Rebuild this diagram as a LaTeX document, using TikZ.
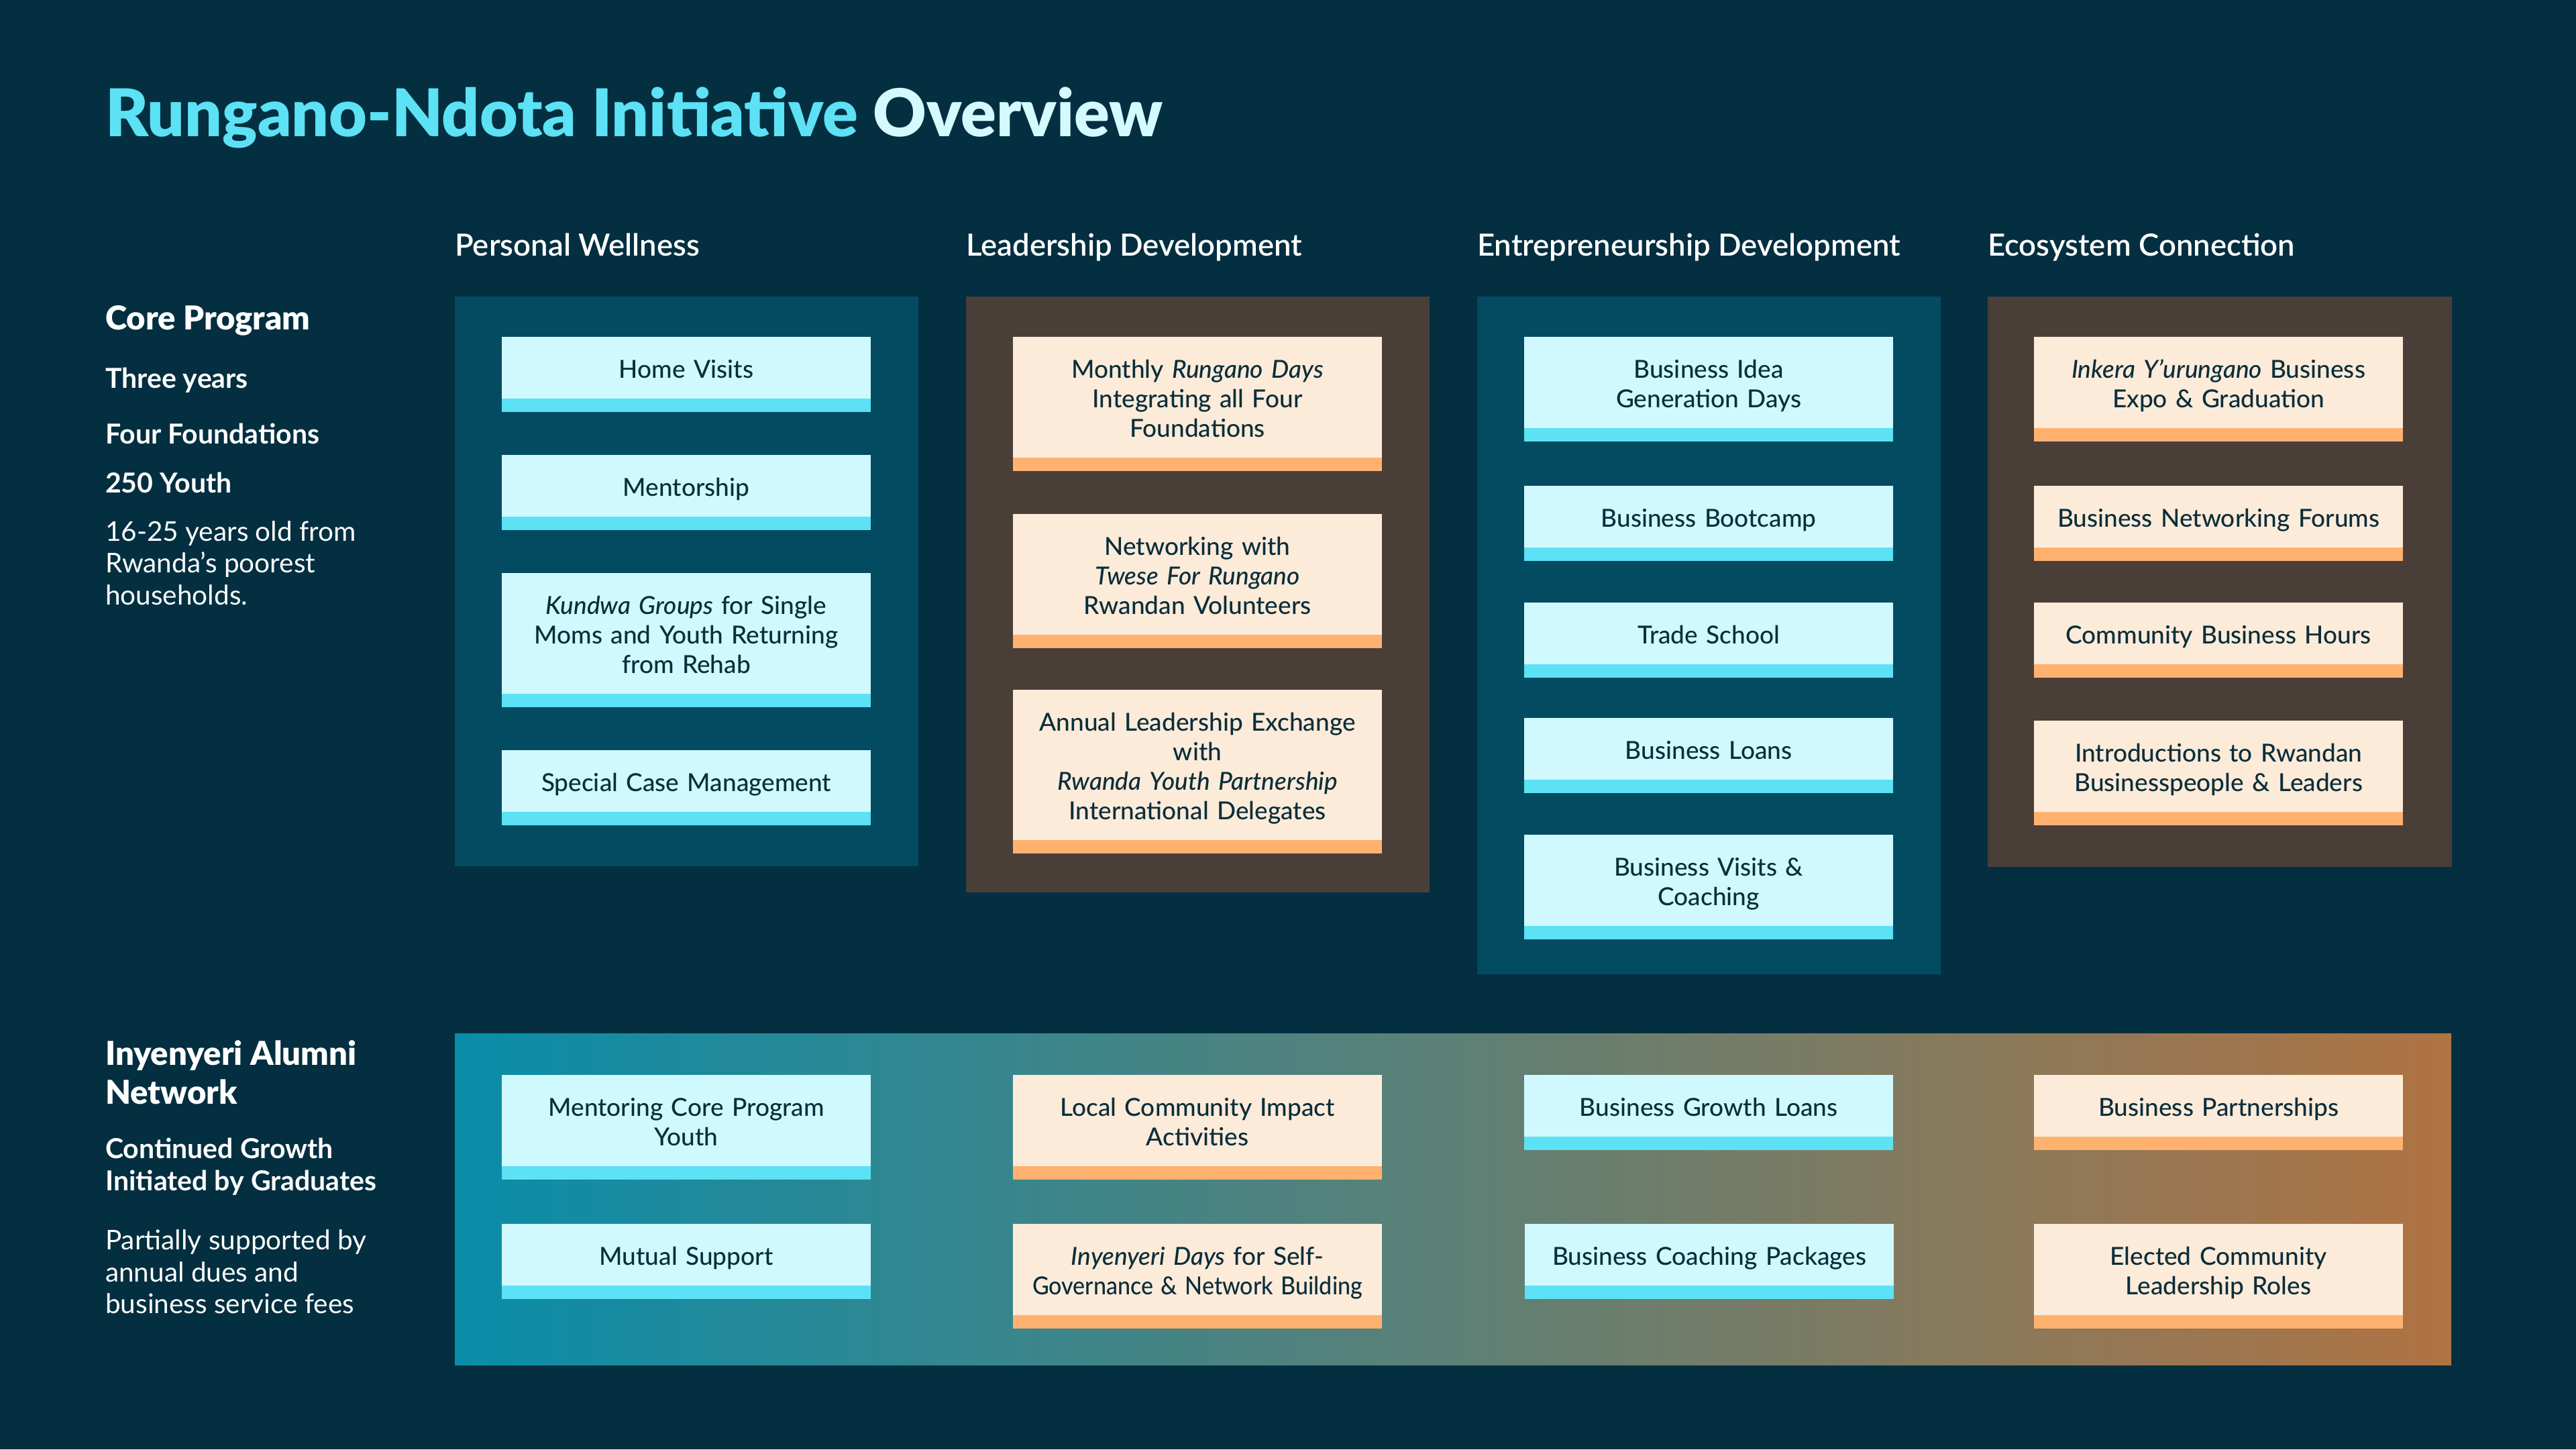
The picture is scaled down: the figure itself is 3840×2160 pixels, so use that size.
\documentclass[tikz,border=0pt]{standalone}
\usepackage{fontspec}
\setmainfont{Lato}
\newfontfamily\blackfont{Lato Black}
\newfontfamily\semifont{Lato Semibold}
\newfontfamily\medfont{Lato Medium}[ItalicFont={Lato Medium Italic}]
\definecolor{bgnavy}{HTML}{032F40}
\definecolor{panelteal}{HTML}{034B61}
\definecolor{panelbrown}{HTML}{4A3E39}
\definecolor{cardcyan}{HTML}{D0F9FF}
\definecolor{stripecyan}{HTML}{5CE1F5}
\definecolor{cardpeach}{HTML}{FDEBDA}
\definecolor{stripepeach}{HTML}{FFB26F}
\definecolor{textdark}{HTML}{0B2E3A}
\definecolor{titlecyan}{HTML}{5CE1F5}
\definecolor{titlepale}{HTML}{D4FAFF}
\definecolor{gradleft}{HTML}{0A8DA9}
\definecolor{gradright}{HTML}{B07343}
\newcommand{\cardstrut}{\rule[-8pt]{0pt}{46pt}}
\begin{document}
\begin{tikzpicture}[x=1pt,y=-1pt,
  card/.style={anchor=north west, minimum width=550pt, text width=550pt, align=center,
    inner sep=0pt, outer sep=0pt, text=textdark, font=\fontsize{37}{44}\selectfont\medfont,
    execute at begin node={\lineskiplimit=-1000pt\cardstrut}, execute at end node=\cardstrut},
  cyancard/.style={card, fill=cardcyan},
  peachcard/.style={card, fill=cardpeach},
  cyanstripe/.style={fill=stripecyan},
  peachstripe/.style={fill=stripepeach},
  colhead/.style={anchor=base west, inner sep=0pt, text=white, font=\fontsize{45.5}{55}\selectfont\semifont},
  sidehead/.style={anchor=base west, inner sep=0pt, text=white, font=\fontsize{49}{58}\selectfont\blackfont},
  sidebold/.style={anchor=base west, inner sep=0pt, text=white, font=\fontsize{41}{48}\selectfont\bfseries},
  sidetext/.style={anchor=base west, inner sep=0pt, text=white, font=\fontsize{40.5}{48}\selectfont},
]
\useasboundingbox (0,0) rectangle (3840,2160);
\fill[bgnavy] (0,0) rectangle (3840,2160);

% title
\node[anchor=base west, inner sep=0pt, font=\fontsize{98}{118}\selectfont\blackfont] (title) at (157,203)
  {\textcolor{titlecyan}{Rungano-Ndota Initiative} \textcolor{titlepale}{Overview}};

% column headers
\node[colhead] (h1) at (678,381) {Personal Wellness};
\node[colhead] (h2) at (1440,381) {Leadership Development};
\node[colhead] (h3) at (2202,381) {Entrepreneurship Development};
\node[colhead] (h4) at (2963,381) {Ecosystem Connection};

% left side texts
\node[sidehead] (core) at (157,491) {Core Program};
\node[sidebold] (three) at (157,578) {Three years};
\node[sidebold] (four) at (157,661) {Four Foundations};
\node[sidebold] (youth) at (157,734) {250 Youth};
\node[sidetext] (desc1) at (157,806) {16-25 years old from};
\node[sidetext] (desc2) at (157,853) {Rwanda’s poorest};
\node[sidetext] (desc3) at (157,901) {households.};

\node[sidehead] (alum1) at (157,1587) {Inyenyeri Alumni};
\node[sidehead] (alum2) at (157,1645) {Network};
\node[sidebold] (cont1) at (157,1726) {Continued Growth};
\node[sidebold] (cont2) at (157,1774) {Initiated by Graduates};
\node[sidetext] (part1) at (157,1862) {Partially supported by};
\node[sidetext] (part2) at (157,1910) {annual dues and};
\node[sidetext] (part3) at (157,1957) {business service fees};

% panels
\fill[panelteal] (678,442) rectangle (1369,1291);
\fill[panelbrown] (1440,442) rectangle (2131,1330);
\fill[panelteal] (2202,442) rectangle (2893,1452);
\fill[panelbrown] (2963,442) rectangle (3655,1292);
\shade[left color=gradleft, right color=gradright] (678,1540) rectangle (3654,2034);

% Personal Wellness
\node[cyancard, minimum height=92pt] (pw1) at (748,502) {Home Visits};
\node[cyancard, minimum height=92pt] (pw2) at (748,678) {Mentorship};
\node[cyancard, minimum height=180pt] (pw3) at (748,854) {\textit{Kundwa Groups} for Single\\Moms and Youth Returning\\from Rehab};
\node[cyancard, minimum height=92pt] (pw4) at (748,1118) {Special Case Management};
\foreach \n in {pw1,pw2,pw3,pw4} \fill[cyanstripe] (\n.south west) rectangle ++(550,20);

% Leadership Development
\node[peachcard, minimum height=180pt] (ld1) at (1510,502) {Monthly \textit{Rungano Days}\\Integrating all Four\\Foundations};
\node[peachcard, minimum height=180pt] (ld2) at (1510,766) {Networking with\\\textit{Twese For Rungano}\\Rwandan Volunteers};
\node[peachcard, minimum height=224pt] (ld3) at (1510,1028) {Annual Leadership Exchange\\with\\\textit{Rwanda Youth Partnership}\\International Delegates};
\foreach \n in {ld1,ld2,ld3} \fill[peachstripe] (\n.south west) rectangle ++(550,20);

% Entrepreneurship Development
\node[cyancard, minimum height=136pt] (ed1) at (2272,502) {Business Idea\\Generation Days};
\node[cyancard, minimum height=92pt] (ed2) at (2272,724) {Business Bootcamp};
\node[cyancard, minimum height=92pt] (ed3) at (2272,898) {Trade School};
\node[cyancard, minimum height=92pt] (ed4) at (2272,1070) {Business Loans};
\node[cyancard, minimum height=136pt] (ed5) at (2272,1244) {Business Visits \&\\Coaching};
\foreach \n in {ed1,ed2,ed3,ed4,ed5} \fill[cyanstripe] (\n.south west) rectangle ++(550,20);

% Ecosystem Connection
\node[peachcard, minimum height=136pt] (ec1) at (3032,502) {\textit{Inkera Y’urungano} Business\\Expo \& Graduation};
\node[peachcard, minimum height=92pt] (ec2) at (3032,724) {Business Networking Forums};
\node[peachcard, minimum height=92pt] (ec3) at (3032,898) {Community Business Hours};
\node[peachcard, minimum height=136pt] (ec4) at (3032,1074) {Introductions to Rwandan\\Businesspeople \& Leaders};
\foreach \n in {ec1,ec2,ec3,ec4} \fill[peachstripe] (\n.south west) rectangle ++(550,20);

% Alumni network row
\node[cyancard, minimum height=136pt] (al1) at (748,1602) {Mentoring Core Program\\Youth};
\node[cyancard, minimum height=92pt] (al2) at (748,1824) {Mutual Support};
\node[peachcard, minimum height=136pt] (al3) at (1510,1602) {Local Community Impact\\Activities};
\node[peachcard, minimum height=136pt] (al4) at (1510,1824) {\textit{Inyenyeri Days} for Self-\\\scalebox{0.92}[1]{Governance \& Network Building}};
\node[cyancard, minimum height=92pt] (al5) at (2272,1602) {Business Growth Loans};
\node[cyancard, minimum height=92pt] (al6) at (2273,1824) {Business Coaching Packages};
\node[peachcard, minimum height=92pt] (al7) at (3032,1602) {Business Partnerships};
\node[peachcard, minimum height=136pt] (al8) at (3032,1824) {Elected Community\\Leadership Roles};
\foreach \n in {al1,al2,al5,al6} \fill[cyanstripe] (\n.south west) rectangle ++(550,20);
\foreach \n in {al3,al4,al7,al8} \fill[peachstripe] (\n.south west) rectangle ++(550,20);
\end{tikzpicture}
\end{document}
